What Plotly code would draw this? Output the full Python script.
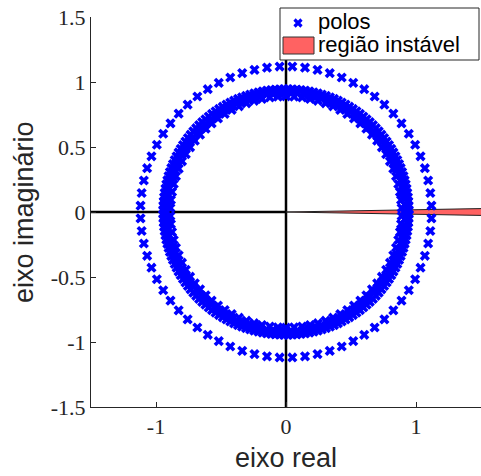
import numpy as np
import plotly.graph_objects as go

# ---- data (pole angles in degrees, upper half-plane; conjugates mirrored) ----
outer_radius = 1.12
outer_angles = [2.5, 7.5, 12.5, 17.5, 22.5, 27.5, 32.5, 37.5, 42.5, 47.5, 52.5, 57.5,
                62.5, 67.5, 72.5, 77.5, 82.5, 87.5, 92.5, 97.5, 102.5, 107.5, 112.5, 117.5,
                122.5, 127.5, 132.5, 137.5, 142.5, 147.5, 152.5, 157.5, 162.5, 167.5, 172.5, 177.5]

ringA_radius = 0.945
ringA_angles = [1, 3, 5, 7, 9, 11, 13, 15, 17, 19, 21, 23, 25, 27, 29, 31, 33, 35, 37, 39,
                41, 43, 45, 47, 49, 51, 53, 55, 57, 59, 61, 63, 65, 67, 69, 71, 73, 75, 77, 79,
                81, 83, 85, 87, 89, 91, 93, 95, 97, 99, 101, 103, 105, 107, 109, 111, 113, 115,
                117, 119, 121, 123, 125, 127, 129, 131, 133, 135, 137, 139, 141, 143, 145, 147,
                149, 151, 153, 155, 157, 159, 161, 163, 165, 167, 169, 171, 173, 175, 177, 179]

ringB_radius = 0.915
ringB_angles = [0.5, 3.5, 6.5, 9.5, 12.5, 15.5, 18.5, 21.5, 24.5, 27.5, 30.5, 33.5, 36.5,
                39.5, 42.5, 45.5, 48.5, 51.5, 54.5, 57.5, 60.5, 63.5, 66.5, 69.5, 72.5, 75.5,
                78.5, 81.5, 84.5, 87.5, 90.5, 93.5, 96.5, 99.5, 102.5, 105.5, 108.5, 111.5,
                114.5, 117.5, 120.5, 123.5, 126.5, 129.5, 132.5, 135.5, 138.5, 141.5, 144.5,
                147.5, 150.5, 153.5, 156.5, 159.5, 162.5, 165.5, 168.5, 171.5, 174.5, 177.5]

ringC_radius = 0.89
ringC_angles = [2, 6, 10, 14, 18, 22, 26, 30, 34, 38, 42, 46, 50, 54, 58, 62, 66, 70, 74, 78,
                82, 86, 90, 94, 98, 102, 106, 110, 114, 118, 122, 126, 130, 134, 138, 142,
                146, 150, 154, 158, 162, 166, 170, 174, 178]

# unstable region: wedge around the positive real axis (half-angle in degrees)
wedge_half_angle = 1.0
wedge_reach = 2.0

x_tickvals = [-1, 0, 1]
x_ticktext = ["-1", "0", "1"]
y_tickvals = [-1.5, -1, -0.5, 0, 0.5, 1, 1.5]
y_ticktext = ["-1.5", "-1", "-0.5", "0", "0.5", "1", "1.5"]

legend_labels = ["polos", "região instável"]

# ---- layout geometry (pixels) ----
W, H = 481, 476
ML, MR, MT, MB = 91, 0, 17, 69
PW = W - ML - MR
PH = H - MT - MB


def fx(px):
    return (px - ML) / PW


def fy(py):
    return (H - MB - py) / PH


# ---- build pole coordinates ----
def ring(r, angs):
    a = np.deg2rad(np.array(angs, dtype=float))
    a = np.concatenate([a, -a])
    return list(r * np.cos(a)), list(r * np.sin(a))


px_, py_ = [], []
for r, angs in [(outer_radius, outer_angles), (ringA_radius, ringA_angles),
                (ringB_radius, ringB_angles), (ringC_radius, ringC_angles)]:
    xx, yy = ring(r, angs)
    px_ += xx
    py_ += yy

t = np.tan(np.deg2rad(wedge_half_angle))
wx = [0, wedge_reach, wedge_reach, 0]
wy = [0, wedge_reach * t, -wedge_reach * t, 0]

fig = go.Figure()
fig.add_trace(go.Scatter(x=[0, 0], y=[-1.5, 1.5], mode="lines",
                         line=dict(color="black", width=2.5), showlegend=False, hoverinfo="skip"))
fig.add_trace(go.Scatter(x=[-1.5, 0], y=[0, 0], mode="lines",
                         line=dict(color="black", width=2.5), showlegend=False, hoverinfo="skip"))
fig.add_trace(go.Scatter(x=wx, y=wy, mode="lines", fill="toself",
                         fillcolor="#ff6262", line=dict(color="#222222", width=1),
                         name=legend_labels[1], showlegend=False))
fig.add_trace(go.Scatter(x=px_, y=py_, mode="markers", name=legend_labels[0],
                         marker=dict(symbol="x", size=9, color="#0000ff", line=dict(width=0)),
                         showlegend=False))

axis_common = dict(showgrid=False, zeroline=False, showline=True, linecolor="#262626",
                   linewidth=1, ticks="inside", ticklen=5, tickcolor="#262626",
                   tickfont=dict(family="Liberation Serif", size=22, color="#262626"),
                   mirror=False, automargin=False)

fig.update_xaxes(range=[-1.5, 1.5], tickvals=x_tickvals, ticktext=x_ticktext, **axis_common)
fig.update_yaxes(range=[-1.5, 1.5], tickvals=y_tickvals, ticktext=y_ticktext, **axis_common)

# ---- hand-drawn legend (box, red patch, blue x) ----
shapes = [
    dict(type="rect", xref="paper", yref="paper", x0=fx(280), x1=fx(479), y0=fy(60), y1=fy(8),
         fillcolor="white", line=dict(color="#262626", width=1), layer="above"),
    dict(type="rect", xref="paper", yref="paper", x0=fx(283), x1=fx(314), y0=fy(54), y1=fy(37),
         fillcolor="#ff6262", line=dict(color="#333333", width=1), layer="above"),
    dict(type="path", xref="paper", yref="paper",
         path=f"M{fx(294.5)},{fy(19.5)} L{fx(301.5)},{fy(26.5)} M{fx(294.5)},{fy(26.5)} L{fx(301.5)},{fy(19.5)}",
         line=dict(color="#0000ff", width=3.2), layer="above"),
]

annotations = [
    dict(text=legend_labels[0], x=fx(316), y=fy(22), xref="paper", yref="paper",
         xanchor="left", yanchor="middle", showarrow=False,
         font=dict(family="Liberation Sans", size=22, color="black")),
    dict(text=legend_labels[1], x=fx(316), y=fy(45), xref="paper", yref="paper",
         xanchor="left", yanchor="middle", showarrow=False,
         font=dict(family="Liberation Sans", size=22, color="black")),
    dict(text="eixo real", x=0.5, y=fy(458), xref="paper", yref="paper",
         xanchor="center", yanchor="middle", showarrow=False,
         font=dict(family="Liberation Sans", size=27, color="#262626")),
    dict(text="eixo imaginário", x=fx(24), y=0.5, xref="paper", yref="paper",
         xanchor="center", yanchor="middle", showarrow=False, textangle=-90,
         font=dict(family="Liberation Sans", size=27, color="#262626")),
]

fig.update_layout(
    width=W, height=H,
    margin=dict(l=ML, r=MR, t=MT, b=MB, pad=0, autoexpand=False),
    plot_bgcolor="white", paper_bgcolor="white",
    showlegend=False,
    shapes=shapes,
    annotations=annotations,
)

fig.write_html("out.html", config={"displayModeBar": False},
               post_script="document.body.style.margin='0';document.body.style.padding='0';")
